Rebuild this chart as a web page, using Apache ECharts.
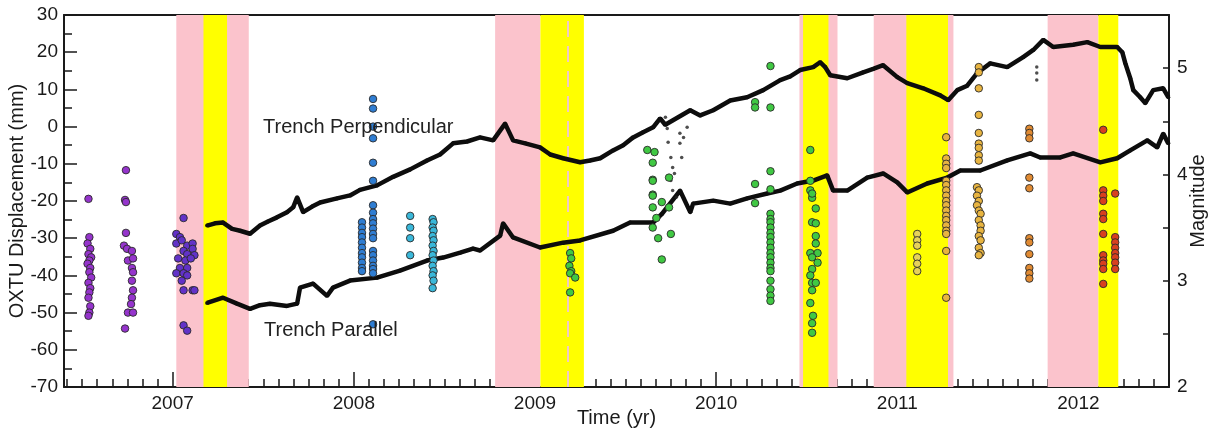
<!DOCTYPE html>
<html>
<head>
<meta charset="utf-8">
<script src="https://cdn.jsdelivr.net/npm/echarts@6/dist/echarts.min.js"></script>
<style>
  html, body { margin: 0; padding: 0; background: #fff; }
  #chart { width: 1215px; height: 434px; }
</style>
</head>
<body>
<div id="chart"></div>
<script>
// axis ticks / labels
const yearTicks = [2007, 2008, 2009, 2010, 2011, 2012];
const magTicks = [2, 3, 4, 5];

// shaded periods (yr)
const pinkBands = [[2007.02, 2007.42], [2008.78, 2009.03], [2010.46, 2010.67], [2010.87, 2011.31], [2011.83, 2012.11]];
const yellowBands = [[2007.17, 2007.30], [2009.03, 2009.27], [2010.48, 2010.62], [2011.05, 2011.28], [2012.11, 2012.22]];
const dashedTimes = [2009.18];

// OXTU displacement, mm
const perpendicular = [
  [2007.19, -26.6], [2007.234, -26.0], [2007.278, -25.8], [2007.328, -27.5], [2007.372, -28.0], [2007.427, -28.8],
  [2007.482, -26.6], [2007.526, -25.5], [2007.576, -24.4], [2007.631, -23.0], [2007.665, -21.7], [2007.687, -19.0],
  [2007.72, -23.0], [2007.77, -21.5], [2007.814, -20.4], [2007.907, -19.3], [2007.979, -18.5], [2008.034, -17.0],
  [2008.128, -15.8], [2008.217, -13.5], [2008.311, -11.5], [2008.404, -9.1], [2008.476, -7.5], [2008.548, -4.5],
  [2008.625, -4.0], [2008.697, -2.9], [2008.769, -3.7], [2008.835, 0.8], [2008.879, -3.7], [2008.946, -4.5],
  [2009.028, -5.6], [2009.084, -7.5], [2009.155, -8.5], [2009.249, -9.6], [2009.304, -9.1], [2009.36, -8.5],
  [2009.431, -6.4], [2009.487, -5.0], [2009.542, -2.9], [2009.597, -1.5], [2009.652, -0.2], [2009.691, 2.2],
  [2009.719, 0.5], [2009.857, 4.4], [2009.912, 3.0], [2009.984, 4.4], [2010.078, 7.0], [2010.171, 7.9],
  [2010.26, 9.8], [2010.354, 12.5], [2010.409, 13.5], [2010.464, 15.2], [2010.536, 16.0], [2010.574, 17.3],
  [2010.602, 16.0], [2010.63, 13.8], [2010.724, 13.0], [2010.812, 14.6], [2010.867, 15.5], [2010.922, 16.5],
  [2011.0, 13.3], [2011.055, 11.7], [2011.143, 10.3], [2011.237, 8.4], [2011.281, 7.1], [2011.331, 9.8],
  [2011.386, 11.0], [2011.441, 14.4], [2011.513, 17.0], [2011.607, 16.0], [2011.695, 18.7], [2011.751, 20.6],
  [2011.806, 23.3], [2011.861, 21.4], [2011.971, 22.0], [2012.049, 22.7], [2012.121, 21.4], [2012.214, 21.4],
  [2012.242, 20.0], [2012.259, 17.0], [2012.286, 13.0], [2012.303, 9.8], [2012.341, 7.9], [2012.369, 6.3],
  [2012.413, 9.8], [2012.468, 10.3], [2012.496, 7.9]
];
const parallel = [
  [2007.19, -47.4], [2007.278, -46.0], [2007.355, -47.6], [2007.427, -49.0], [2007.482, -48.0], [2007.537, -47.6],
  [2007.631, -48.2], [2007.687, -47.6], [2007.703, -43.3], [2007.775, -42.2], [2007.852, -45.5], [2007.885, -43.3],
  [2007.979, -41.4], [2008.128, -40.6], [2008.255, -38.7], [2008.404, -36.0], [2008.493, -35.2], [2008.587, -33.9],
  [2008.658, -32.8], [2008.697, -33.3], [2008.808, -29.3], [2008.824, -26.0], [2008.879, -29.8], [2009.028, -32.5],
  [2009.155, -31.2], [2009.249, -30.6], [2009.431, -28.0], [2009.525, -25.8], [2009.652, -25.8], [2009.702, -23.4],
  [2009.801, -17.2], [2009.857, -23.0], [2009.873, -20.7], [2009.984, -19.9], [2010.078, -20.7], [2010.171, -19.3],
  [2010.282, -18.0], [2010.354, -17.2], [2010.447, -15.3], [2010.536, -14.5], [2010.613, -13.1], [2010.646, -17.2],
  [2010.724, -17.2], [2010.834, -13.7], [2010.922, -12.6], [2011.0, -15.0], [2011.055, -17.7], [2011.165, -15.3],
  [2011.276, -13.7], [2011.348, -11.8], [2011.458, -11.8], [2011.607, -9.1], [2011.734, -7.2], [2011.789, -8.3],
  [2011.9, -8.3], [2011.971, -7.2], [2012.121, -9.6], [2012.214, -8.5], [2012.286, -6.4], [2012.38, -3.7],
  [2012.435, -5.6], [2012.468, -1.9], [2012.496, -4.5]
];
const gpsOutliers = [
  [2009.72, 2.5], [2009.73, -0.5], [2009.735, -4.2], [2009.75, -8.3], [2009.76, -11.0], [2009.77, -12.6],
  [2009.80, -1.8], [2009.80, -4.5], [2009.82, -2.9], [2009.84, -0.2], [2009.81, -8.3], [2009.75, -14.5],
  [2009.76, -17.2], [2009.78, -19.0], [2011.77, 16.0], [2011.77, 14.4], [2011.77, 12.5]
];

// earthquakes [yr, magnitude]
const quakePurple = [
  [2006.535, 3.77], [2006.54, 3.41], [2006.53, 3.35], [2006.545, 3.30], [2006.535, 3.25], [2006.55, 3.22],
  [2006.54, 3.19], [2006.53, 3.16], [2006.545, 3.12], [2006.54, 3.08], [2006.55, 3.03], [2006.535, 2.98],
  [2006.545, 2.93], [2006.54, 2.89], [2006.535, 2.84], [2006.545, 2.76], [2006.54, 2.70], [2006.535, 2.67],
  [2006.742, 4.04], [2006.737, 3.76], [2006.742, 3.74], [2006.742, 3.45], [2006.731, 3.33], [2006.748, 3.30],
  [2006.775, 3.28], [2006.753, 3.19], [2006.781, 3.21], [2006.775, 3.12], [2006.781, 3.08], [2006.775, 3.00],
  [2006.781, 2.91], [2006.775, 2.84], [2006.77, 2.78], [2006.753, 2.70], [2006.781, 2.70], [2006.737, 2.55]
];
const quakeViolet = [
  [2007.06, 3.59], [2007.02, 3.44], [2007.04, 3.41], [2007.02, 3.35], [2007.05, 3.38], [2007.08, 3.33],
  [2007.11, 3.35], [2007.11, 3.30], [2007.06, 3.28], [2007.08, 3.25], [2007.12, 3.24], [2007.03, 3.21],
  [2007.07, 3.19], [2007.10, 3.21], [2007.04, 3.12], [2007.08, 3.12], [2007.02, 3.07], [2007.06, 3.07],
  [2007.08, 3.05], [2007.05, 3.00], [2007.06, 2.91], [2007.11, 2.91], [2007.12, 2.91], [2007.06, 2.58],
  [2007.08, 2.53]
];
const quakeBlue = [
  [2008.045, 3.55], [2008.045, 3.50], [2008.045, 3.45], [2008.045, 3.41], [2008.045, 3.36], [2008.045, 3.31],
  [2008.045, 3.26], [2008.045, 3.22], [2008.045, 3.17], [2008.045, 3.12], [2008.045, 3.09],
  [2008.106, 4.71], [2008.106, 4.62], [2008.106, 4.45], [2008.106, 4.34], [2008.106, 4.11], [2008.106, 3.94],
  [2008.106, 3.71], [2008.106, 3.64], [2008.106, 3.58], [2008.106, 3.54], [2008.106, 3.49], [2008.106, 3.44],
  [2008.106, 3.40], [2008.106, 3.28], [2008.106, 3.24], [2008.106, 3.19], [2008.106, 3.14], [2008.106, 3.11],
  [2008.106, 3.07], [2008.106, 2.59]
];
const quakeCyan = [
  [2008.311, 3.61], [2008.311, 3.50], [2008.311, 3.40], [2008.311, 3.24],
  [2008.435, 3.58], [2008.44, 3.55], [2008.435, 3.50], [2008.44, 3.47], [2008.435, 3.42], [2008.44, 3.38],
  [2008.435, 3.33], [2008.44, 3.28], [2008.435, 3.24], [2008.44, 3.19], [2008.435, 3.14], [2008.44, 3.09],
  [2008.435, 3.05], [2008.44, 3.00], [2008.435, 2.93]
];
const quakeGreen = [
  [2009.194, 3.26], [2009.20, 3.21], [2009.19, 3.14], [2009.20, 3.09], [2009.194, 3.07], [2009.222, 3.03], [2009.194, 2.89],
  [2009.62, 4.23], [2009.66, 4.21], [2009.65, 4.11], [2009.65, 3.95], [2009.74, 3.97], [2009.65, 3.81],
  [2009.65, 3.94], [2009.65, 3.80], [2009.65, 3.69], [2009.67, 3.59], [2009.65, 3.50], [2009.70, 3.74],
  [2009.74, 3.69], [2009.68, 3.40], [2009.75, 3.44], [2009.70, 3.20],
  [2010.215, 4.68], [2010.215, 4.63], [2010.215, 3.91], [2010.215, 3.73],
  [2010.30, 5.02], [2010.30, 4.63], [2010.30, 4.03], [2010.30, 3.86], [2010.30, 3.63], [2010.30, 3.58],
  [2010.30, 3.55], [2010.30, 3.50], [2010.30, 3.45], [2010.30, 3.41], [2010.30, 3.36], [2010.30, 3.31],
  [2010.30, 3.26], [2010.30, 3.22], [2010.30, 3.17], [2010.30, 3.12], [2010.30, 3.09], [2010.30, 3.00],
  [2010.30, 2.92], [2010.30, 2.86], [2010.30, 2.81],
  [2010.52, 4.23], [2010.52, 3.94], [2010.52, 3.85], [2010.53, 3.78], [2010.53, 3.82], [2010.55, 3.68],
  [2010.53, 3.55], [2010.55, 3.54], [2010.55, 3.42], [2010.55, 3.35], [2010.52, 3.26], [2010.56, 3.26],
  [2010.53, 3.22], [2010.56, 3.17], [2010.53, 3.11], [2010.52, 3.05], [2010.53, 2.98], [2010.55, 2.98],
  [2010.53, 2.91], [2010.52, 2.79], [2010.535, 2.67], [2010.53, 2.60], [2010.53, 2.51]
];
const quakeYellow = [
  [2011.11, 3.44], [2011.11, 3.38], [2011.11, 3.33], [2011.11, 3.22], [2011.11, 3.16], [2011.11, 3.09]
];
const quakeGold = [
  [2011.27, 4.35], [2011.27, 4.15], [2011.27, 4.10], [2011.27, 4.06], [2011.27, 3.94], [2011.27, 3.90],
  [2011.27, 3.85], [2011.27, 3.80], [2011.27, 3.75], [2011.27, 3.71], [2011.27, 3.66], [2011.27, 3.61],
  [2011.27, 3.57], [2011.27, 3.52], [2011.27, 3.47], [2011.27, 3.44], [2011.27, 3.28], [2011.27, 2.84],
  [2011.45, 5.01], [2011.45, 4.96], [2011.45, 4.81], [2011.45, 4.56], [2011.45, 4.39], [2011.45, 4.29],
  [2011.45, 4.25], [2011.45, 4.18], [2011.45, 4.13], [2011.44, 3.88], [2011.45, 3.85], [2011.44, 3.80],
  [2011.45, 3.75], [2011.44, 3.71], [2011.45, 3.66], [2011.46, 3.63], [2011.45, 3.57], [2011.46, 3.52],
  [2011.46, 3.47], [2011.45, 3.42], [2011.46, 3.38], [2011.45, 3.31], [2011.46, 3.26], [2011.45, 3.24]
];
const quakeOrange = [
  [2011.729, 4.43], [2011.729, 4.39], [2011.729, 4.34], [2011.729, 3.97], [2011.729, 3.87], [2011.729, 3.40],
  [2011.729, 3.36], [2011.729, 3.25], [2011.729, 3.12], [2011.729, 3.07], [2011.729, 3.02]
];
const quakeRed = [
  [2012.137, 4.42], [2012.137, 3.85], [2012.137, 3.80], [2012.137, 3.75], [2012.137, 3.63], [2012.137, 3.58],
  [2012.137, 3.44], [2012.137, 3.24], [2012.137, 3.19], [2012.137, 3.16], [2012.137, 3.11], [2012.137, 2.97],
  [2012.203, 3.82], [2012.203, 3.41], [2012.203, 3.36], [2012.203, 3.31], [2012.203, 3.26], [2012.203, 3.22],
  [2012.203, 3.17], [2012.203, 3.11]
];

// monthly minor ticks on the time axis
const monthTicks = [];
for (let m = Math.ceil(2006.4 * 12); m <= 2012.5 * 12; m++) monthTicks.push(m / 12);

const font = "'Liberation Sans', Arial, sans-serif";
const ink = '#1a1a1a';

const quakeGroups = [
  [quakePurple, '#9534cc'],
  [quakeViolet, '#6232c8'],
  [quakeBlue, '#2f7dd2'],
  [quakeCyan, '#3ab8da'],
  [quakeGreen, '#40c843'],
  [quakeYellow, '#e6d25a'],
  [quakeGold, '#e8b440'],
  [quakeOrange, '#e08a32'],
  [quakeRed, '#d8401f']
];

const bandArea = (bands, color) => bands.map(b => [
  { xAxis: b[0], itemStyle: { color: color } },
  { xAxis: b[1] }
]);

var myChart = echarts.init(document.getElementById('chart'));

var series = [
  {
    name: 'pink', type: 'line', data: [], silent: true, z: 1,
    markArea: { silent: true, data: bandArea(pinkBands, '#fbc3cc') }
  },
  {
    name: 'yellow', type: 'line', data: [], silent: true, z: 2,
    markArea: { silent: true, data: bandArea(yellowBands, '#ffff00') },
    markLine: {
      silent: true, symbol: 'none', label: { show: false },
      lineStyle: { color: '#f1c9c4', width: 2, type: [16, 9] },
      data: dashedTimes.map(t => ({ xAxis: t }))
    }
  },
  {
    name: 'Trench Perpendicular', type: 'line', data: perpendicular, z: 5,
    showSymbol: true, symbol: 'circle', symbolSize: 4,
    itemStyle: { color: '#0d0d0d' },
    lineStyle: { color: '#0d0d0d', width: 4.5 }
  },
  {
    name: 'Trench Parallel', type: 'line', data: parallel, z: 5,
    showSymbol: true, symbol: 'circle', symbolSize: 4,
    itemStyle: { color: '#0d0d0d' },
    lineStyle: { color: '#0d0d0d', width: 4.5 }
  },
  {
    name: 'outliers', type: 'scatter', data: gpsOutliers, z: 5,
    symbolSize: 3.5, itemStyle: { color: '#222' }
  }
];

quakeGroups.forEach(g => {
  series.push({
    type: 'scatter', yAxisIndex: 1, data: g[0], z: 6,
    symbol: 'circle', symbolSize: 7.5,
    itemStyle: { color: g[1], borderColor: '#2a2a2a', borderWidth: 0.9, opacity: 1 }
  });
});

var option = {
  animation: false,
  backgroundColor: '#fff',
  textStyle: { fontFamily: font },
  grid: { left: 64, right: 46, top: 15, bottom: 47, containLabel: false, outerBoundsMode: 'none' },
  xAxis: [
    {
      type: 'value', min: 2006.4, max: 2012.5, position: 'bottom',
      splitLine: { show: false },
      axisLine: { onZero: false, lineStyle: { color: ink, width: 2 } },
      axisTick: { inside: true, length: 15, customValues: yearTicks, lineStyle: { color: ink, width: 1.5 } },
      axisLabel: { customValues: yearTicks, formatter: v => String(Math.round(v)), fontSize: 19, color: ink, margin: 7, fontFamily: font },
      name: 'Time (yr)', nameLocation: 'middle', nameGap: 21, nameMoveOverlap: false,
      nameTextStyle: { fontSize: 20, color: ink, fontFamily: font }
    },
    {
      type: 'value', min: 2006.4, max: 2012.5, position: 'bottom',
      splitLine: { show: false },
      axisLine: { show: false, onZero: false },
      axisTick: { inside: true, length: 8, customValues: monthTicks, lineStyle: { color: ink, width: 1.5 } },
      axisLabel: { show: false }
    },
    {
      type: 'value', min: 2006.4, max: 2012.5, position: 'top',
      splitLine: { show: false },
      axisLine: { onZero: false, lineStyle: { color: ink, width: 2 } },
      axisTick: { show: false }, axisLabel: { show: false }
    }
  ],
  yAxis: [
    {
      type: 'value', min: -70, max: 30, interval: 10, position: 'left',
      splitLine: { show: false },
      axisLine: { show: true, onZero: false, lineStyle: { color: ink, width: 2 } },
      axisTick: { show: true, inside: true, length: 13, lineStyle: { color: ink, width: 1.5 } },
      minorTick: { show: true, splitNumber: 2, length: 8, lineStyle: { color: ink, width: 1.5 } },
      axisLabel: { fontSize: 19, color: ink, margin: 6, fontFamily: font },
      name: 'OXTU Displacement (mm)', nameLocation: 'middle', nameGap: 37, nameRotate: 90, nameMoveOverlap: false,
      nameTextStyle: { fontSize: 20, color: ink, fontFamily: font }
    },
    {
      type: 'value', min: 2, max: 5.5, interval: 0.5, position: 'right',
      splitLine: { show: false },
      axisLine: { show: true, onZero: false, lineStyle: { color: ink, width: 2 } },
      axisTick: { show: true, inside: true, length: 6, lineStyle: { color: ink, width: 1.5 } },
      axisLabel: {
        customValues: magTicks, formatter: v => String(Math.round(v)),
        fontSize: 19, color: ink, margin: 8, fontFamily: font
      },
      name: 'Magnitude', nameLocation: 'middle', nameGap: 19, nameRotate: 90, nameMoveOverlap: false,
      nameTextStyle: { fontSize: 20, color: ink, fontFamily: font }
    }
  ],
  graphic: [
    { type: 'text', left: 263, top: 117, z: 100, style: { text: 'Trench Perpendicular', fontSize: 20, fontFamily: font, fill: '#222' } },
    { type: 'text', left: 264, top: 320, z: 100, style: { text: 'Trench Parallel', fontSize: 20, fontFamily: font, fill: '#222' } }
  ],
  series: series
};

myChart.setOption(option, true);
window.onresize = myChart.resize;
</script>
</body>
</html>
